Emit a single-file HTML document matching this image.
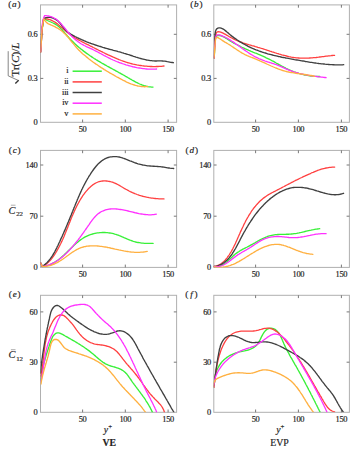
<!DOCTYPE html>
<html><head><meta charset="utf-8"><style>
html,body{margin:0;padding:0;background:#fff;}
svg{display:block;}
text{font-family:"Liberation Serif",serif;fill:#222;stroke:#222;stroke-width:0.18px;}
.t{font-size:8.4px;letter-spacing:-0.25px;}
.pl{font-size:9.2px;}
.ax{font-size:9.8px;}
.cl{font-size:10.4px;}
.yl{font-size:11px;}
.it{font-style:italic;}
</style></head><body>
<svg width="350" height="449" viewBox="0 0 350 449">
<rect width="350" height="449" fill="#fff"/>
<rect x="40.5" y="4.9" width="136.10" height="117.40" fill="none" stroke="#b0b0b0" stroke-width="1"/>
<path d="M82.6 122.3v-2.8M82.6 4.9v2.8M125.3 122.3v-2.8M125.3 4.9v2.8M168.1 122.3v-2.8M168.1 4.9v2.8M40.5 78.4h2.8M176.6 78.4h-2.8M40.5 34.3h2.8M176.6 34.3h-2.8" stroke="#6a6a6a" stroke-width="0.9" fill="none"/>
<rect x="213.8" y="4.9" width="135.60" height="117.40" fill="none" stroke="#b0b0b0" stroke-width="1"/>
<path d="M255.6 122.3v-2.8M255.6 4.9v2.8M298.4 122.3v-2.8M298.4 4.9v2.8M341.4 122.3v-2.8M341.4 4.9v2.8M213.8 78.4h2.8M349.4 78.4h-2.8M213.8 34.3h2.8M349.4 34.3h-2.8" stroke="#6a6a6a" stroke-width="0.9" fill="none"/>
<rect x="40.5" y="150.4" width="136.10" height="117.00" fill="none" stroke="#b0b0b0" stroke-width="1"/>
<path d="M82.6 267.4v-2.8M82.6 150.4v2.8M125.3 267.4v-2.8M125.3 150.4v2.8M168.1 267.4v-2.8M168.1 150.4v2.8M40.5 216.2h2.8M176.6 216.2h-2.8M40.5 165.0h2.8M176.6 165.0h-2.8" stroke="#6a6a6a" stroke-width="0.9" fill="none"/>
<rect x="213.8" y="150.4" width="135.60" height="117.00" fill="none" stroke="#b0b0b0" stroke-width="1"/>
<path d="M255.6 267.4v-2.8M255.6 150.4v2.8M298.4 267.4v-2.8M298.4 150.4v2.8M341.4 267.4v-2.8M341.4 150.4v2.8M213.8 216.2h2.8M349.4 216.2h-2.8M213.8 165.0h2.8M349.4 165.0h-2.8" stroke="#6a6a6a" stroke-width="0.9" fill="none"/>
<rect x="40.5" y="295.3" width="136.10" height="117.00" fill="none" stroke="#b0b0b0" stroke-width="1"/>
<path d="M82.6 412.3v-2.8M82.6 295.3v2.8M125.3 412.3v-2.8M125.3 295.3v2.8M168.1 412.3v-2.8M168.1 295.3v2.8M40.5 362.2h2.8M176.6 362.2h-2.8M40.5 311.9h2.8M176.6 311.9h-2.8" stroke="#6a6a6a" stroke-width="0.9" fill="none"/>
<rect x="213.8" y="295.3" width="135.60" height="117.00" fill="none" stroke="#b0b0b0" stroke-width="1"/>
<path d="M255.6 412.3v-2.8M255.6 295.3v2.8M298.4 412.3v-2.8M298.4 295.3v2.8M341.4 412.3v-2.8M341.4 295.3v2.8M213.8 362.2h2.8M349.4 362.2h-2.8M213.8 311.9h2.8M349.4 311.9h-2.8" stroke="#6a6a6a" stroke-width="0.9" fill="none"/>
<clipPath id="cpa"><rect x="40.5" y="2.9000000000000004" width="137.10" height="119.40"/></clipPath>
<g clip-path="url(#cpa)" fill="none" stroke-linecap="round" stroke-linejoin="round"><path d="M40.6 52.0 L40.7 50.8 L40.8 49.5 L40.9 48.3 L41.0 47.1 L41.1 45.8 L41.1 44.6 L41.2 43.4 L41.3 42.1 L41.4 40.9 L41.4 39.7 L41.5 38.4 L41.6 37.2 L41.6 35.9 L41.7 34.7 L41.8 33.5 L41.9 32.2 L42.0 31.0 L42.1 29.8 L42.3 28.5 L42.4 27.3 L42.6 26.1 L42.8 24.9 L43.0 23.6 L43.2 22.4 L43.4 21.2 L43.7 20.0 L44.0 18.8 L45.1 19.4 L46.2 19.9 L47.4 20.5 L48.5 21.0 L49.6 21.5 L50.8 22.0 L51.9 22.5 L53.1 23.0 L54.2 23.6 L55.3 24.2 L56.3 24.8 L57.3 25.5 L58.3 26.2 L59.2 27.0 L60.1 27.8 L61.0 28.7 L61.9 29.5 L62.7 30.5 L63.5 31.4 L64.3 32.3 L65.1 33.3 L65.9 34.3 L66.7 35.2 L67.5 36.2 L68.4 37.1 L69.2 38.0 L70.1 38.9 L70.9 39.8 L71.8 40.7 L72.7 41.6 L73.6 42.5 L74.5 43.3 L75.4 44.2 L76.3 45.0 L77.2 45.9 L78.2 46.7 L79.1 47.5 L80.1 48.3 L81.0 49.1 L82.0 49.8 L83.0 50.6 L84.0 51.4 L85.0 52.1 L86.0 52.9 L87.0 53.6 L88.0 54.3 L89.0 55.0 L90.0 55.7 L91.1 56.4 L92.1 57.1 L93.1 57.8 L94.2 58.5 L95.2 59.1 L96.3 59.8 L97.4 60.4 L98.4 61.1 L99.5 61.7 L100.6 62.3 L101.6 63.0 L102.7 63.6 L103.8 64.2 L104.9 64.8 L106.0 65.4 L107.0 66.0 L108.1 66.6 L109.2 67.2 L110.3 67.8 L111.4 68.4 L112.5 69.0 L113.6 69.6 L114.7 70.2 L115.8 70.8 L116.9 71.4 L118.0 72.0 L119.0 72.6 L120.1 73.2 L121.2 73.8 L122.3 74.4 L123.4 75.0 L124.5 75.6 L125.6 76.3 L126.7 76.9 L127.7 77.5 L128.8 78.1 L129.9 78.8 L131.0 79.4 L132.0 80.0 L133.1 80.6 L134.2 81.2 L135.3 81.8 L136.4 82.4 L137.5 82.9 L138.6 83.5 L139.7 84.0 L140.9 84.5 L142.0 84.9 L143.2 85.3 L144.3 85.7 L145.5 86.0 L146.7 86.3 L147.9 86.6 L149.2 86.8 L150.4 86.9 L151.7 87.1 L153.0 87.1" stroke="#38f038" stroke-width="1.35"/><path d="M40.6 52.0 L40.7 50.8 L40.8 49.5 L40.9 48.3 L41.0 47.0 L41.1 45.8 L41.1 44.6 L41.2 43.3 L41.3 42.1 L41.4 40.8 L41.4 39.6 L41.5 38.4 L41.6 37.1 L41.7 35.9 L41.7 34.6 L41.8 33.4 L41.9 32.2 L42.0 30.9 L42.1 29.7 L42.2 28.4 L42.4 27.2 L42.5 26.0 L42.7 24.7 L42.8 23.5 L43.0 22.3 L43.2 21.1 L43.4 19.8 L43.6 18.6 L44.9 18.7 L46.2 18.8 L47.5 19.0 L48.7 19.3 L49.9 19.7 L51.0 20.1 L52.1 20.6 L53.2 21.2 L54.3 21.8 L55.3 22.4 L56.3 23.1 L57.3 23.8 L58.2 24.6 L59.2 25.4 L60.1 26.2 L61.1 27.0 L62.0 27.8 L62.9 28.6 L63.9 29.5 L64.8 30.3 L65.7 31.1 L66.7 31.9 L67.7 32.7 L68.6 33.4 L69.6 34.2 L70.6 34.9 L71.6 35.6 L72.7 36.3 L73.7 36.9 L74.7 37.6 L75.8 38.2 L76.8 38.9 L77.9 39.5 L79.0 40.1 L80.1 40.7 L81.2 41.3 L82.2 41.9 L83.3 42.4 L84.4 43.0 L85.5 43.6 L86.7 44.1 L87.8 44.7 L88.9 45.2 L90.0 45.8 L91.1 46.3 L92.2 46.9 L93.3 47.5 L94.4 48.0 L95.5 48.6 L96.6 49.1 L97.7 49.7 L98.8 50.3 L100.0 50.8 L101.1 51.4 L102.2 51.9 L103.3 52.5 L104.4 53.0 L105.5 53.6 L106.6 54.1 L107.7 54.6 L108.8 55.2 L110.0 55.7 L111.1 56.2 L112.2 56.7 L113.3 57.2 L114.5 57.7 L115.6 58.2 L116.8 58.7 L117.9 59.1 L119.0 59.6 L120.2 60.0 L121.3 60.5 L122.5 60.9 L123.7 61.3 L124.8 61.7 L126.0 62.1 L127.2 62.5 L128.4 62.8 L129.6 63.1 L130.8 63.5 L132.0 63.8 L133.2 64.1 L134.4 64.3 L135.6 64.6 L136.8 64.9 L138.1 65.1 L139.3 65.3 L140.5 65.5 L141.8 65.7 L143.0 65.8 L144.2 66.0 L145.5 66.1 L146.7 66.2 L147.9 66.3 L149.2 66.4 L150.4 66.5 L151.7 66.5 L152.9 66.6 L154.1 66.6 L155.4 66.6 L156.6 66.5 L157.9 66.5 L159.1 66.4 L160.3 66.4 L161.5 66.3 L162.8 66.1 L164.0 66.0" stroke="#ff4040" stroke-width="1.3"/><path d="M40.6 52.0 L40.7 50.8 L40.8 49.6 L40.9 48.4 L41.0 47.2 L41.1 46.0 L41.1 44.8 L41.2 43.6 L41.3 42.4 L41.3 41.2 L41.4 40.0 L41.5 38.8 L41.5 37.6 L41.6 36.3 L41.7 35.1 L41.8 33.9 L41.8 32.7 L41.9 31.5 L42.0 30.3 L42.2 29.1 L42.3 27.9 L42.4 26.7 L42.6 25.5 L42.7 24.3 L42.9 23.1 L43.1 22.0 L43.3 20.8 L43.5 19.6 L43.8 18.4 L45.0 17.9 L46.3 17.6 L47.5 17.4 L48.7 17.3 L50.0 17.4 L51.2 17.5 L52.3 17.9 L53.5 18.3 L54.6 18.8 L55.7 19.4 L56.7 20.1 L57.7 20.8 L58.6 21.7 L59.4 22.6 L60.3 23.5 L61.1 24.5 L61.8 25.5 L62.6 26.5 L63.4 27.5 L64.2 28.5 L65.0 29.4 L65.8 30.3 L66.7 31.2 L67.6 32.0 L68.6 32.7 L69.6 33.4 L70.6 34.1 L71.7 34.7 L72.8 35.3 L73.9 35.9 L75.0 36.5 L76.1 37.0 L77.2 37.6 L78.3 38.1 L79.4 38.7 L80.5 39.2 L81.6 39.7 L82.8 40.2 L83.9 40.7 L85.1 41.1 L86.2 41.6 L87.4 42.1 L88.5 42.5 L89.7 43.0 L90.8 43.4 L92.0 43.8 L93.2 44.2 L94.4 44.6 L95.5 45.0 L96.7 45.4 L97.9 45.8 L99.1 46.2 L100.3 46.5 L101.5 46.9 L102.7 47.3 L103.8 47.6 L105.0 48.0 L106.2 48.3 L107.4 48.6 L108.6 49.0 L109.8 49.3 L111.0 49.6 L112.2 49.9 L113.4 50.3 L114.6 50.6 L115.7 50.9 L116.9 51.2 L118.1 51.6 L119.3 51.9 L120.5 52.2 L121.7 52.6 L122.9 52.9 L124.1 53.3 L125.3 53.6 L126.4 54.0 L127.6 54.4 L128.8 54.7 L130.0 55.1 L131.2 55.5 L132.4 55.9 L133.5 56.3 L134.7 56.7 L135.9 57.1 L137.1 57.4 L138.3 57.8 L139.5 58.2 L140.7 58.5 L141.9 58.8 L143.1 59.1 L144.2 59.4 L145.4 59.7 L146.6 60.0 L147.8 60.2 L149.0 60.4 L150.3 60.6 L151.5 60.7 L152.7 60.9 L153.9 60.9 L155.1 61.0 L156.3 61.0 L157.6 60.9 L158.8 60.9 L160.0 60.9 L161.2 60.9 L162.5 61.0 L163.7 61.1 L164.9 61.2 L166.1 61.4 L167.3 61.7 L168.5 61.9 L169.7 62.1 L170.9 62.3 L172.2 62.5 L173.4 62.7" stroke="#404040" stroke-width="1.35"/><path d="M40.6 52.0 L40.8 50.8 L40.9 49.6 L41.0 48.4 L41.1 47.2 L41.2 45.9 L41.3 44.7 L41.3 43.5 L41.4 42.2 L41.4 41.0 L41.5 39.7 L41.5 38.5 L41.5 37.3 L41.5 36.0 L41.6 34.8 L41.6 33.5 L41.7 32.3 L41.7 31.0 L41.8 29.8 L41.9 28.6 L42.0 27.3 L42.1 26.1 L42.2 24.9 L42.4 23.7 L42.6 22.5 L42.8 21.3 L43.1 20.1 L43.4 19.0 L43.8 17.8 L44.1 16.7 L44.6 15.6 L46.0 15.6 L47.3 15.8 L48.5 16.0 L49.8 16.3 L50.9 16.6 L52.1 17.0 L53.2 17.5 L54.2 18.1 L55.3 18.7 L56.3 19.3 L57.2 20.1 L58.1 20.8 L59.0 21.7 L59.9 22.5 L60.7 23.4 L61.6 24.3 L62.4 25.3 L63.2 26.3 L64.0 27.2 L64.8 28.2 L65.6 29.2 L66.4 30.2 L67.2 31.2 L68.0 32.2 L68.8 33.1 L69.6 34.0 L70.5 35.0 L71.4 35.9 L72.2 36.8 L73.1 37.6 L74.1 38.5 L75.0 39.3 L75.9 40.1 L76.9 40.8 L77.9 41.6 L78.9 42.3 L79.9 43.0 L80.9 43.7 L82.0 44.3 L83.1 44.9 L84.2 45.5 L85.3 46.0 L86.4 46.6 L87.5 47.1 L88.7 47.6 L89.8 48.1 L90.9 48.7 L92.1 49.2 L93.2 49.7 L94.3 50.3 L95.4 50.9 L96.5 51.4 L97.7 52.0 L98.8 52.6 L99.9 53.2 L101.0 53.8 L102.1 54.4 L103.2 55.0 L104.3 55.6 L105.4 56.1 L106.5 56.7 L107.6 57.3 L108.7 57.9 L109.8 58.4 L110.9 59.0 L112.0 59.5 L113.1 60.0 L114.3 60.5 L115.4 61.0 L116.5 61.5 L117.7 61.9 L118.8 62.4 L120.0 62.8 L121.2 63.2 L122.3 63.6 L123.5 64.0 L124.7 64.4 L125.9 64.8 L127.1 65.1 L128.3 65.5 L129.5 65.8 L130.7 66.1 L131.9 66.5 L133.1 66.8 L134.3 67.0 L135.6 67.3 L136.8 67.6 L138.0 67.8 L139.3 68.0 L140.5 68.2 L141.7 68.4 L143.0 68.6 L144.2 68.7 L145.4 68.9 L146.7 69.0 L147.9 69.1 L149.2 69.1 L150.4 69.2 L151.6 69.2 L152.9 69.2 L154.1 69.1 L155.4 69.1 L156.6 69.0" stroke="#ff30ff" stroke-width="1.3"/><path d="M40.6 52.0 L40.7 50.8 L40.8 49.5 L40.9 48.3 L41.0 47.1 L41.1 45.8 L41.1 44.6 L41.2 43.4 L41.3 42.1 L41.4 40.9 L41.4 39.7 L41.5 38.4 L41.6 37.2 L41.6 35.9 L41.7 34.7 L41.8 33.5 L41.9 32.2 L42.0 31.0 L42.1 29.8 L42.3 28.5 L42.4 27.3 L42.6 26.1 L42.8 24.9 L43.0 23.6 L43.2 22.4 L43.4 21.2 L43.7 20.0 L44.0 18.8 L44.6 20.1 L45.3 21.1 L46.1 22.1 L47.0 22.9 L48.0 23.6 L49.1 24.2 L50.2 24.7 L51.3 25.2 L52.5 25.7 L53.6 26.2 L54.8 26.7 L55.9 27.3 L57.0 27.9 L58.1 28.5 L59.1 29.1 L60.1 29.8 L61.1 30.5 L62.1 31.3 L63.0 32.1 L63.9 32.9 L64.8 33.8 L65.7 34.6 L66.5 35.5 L67.4 36.5 L68.2 37.4 L69.0 38.4 L69.8 39.3 L70.5 40.3 L71.3 41.3 L72.1 42.3 L72.9 43.2 L73.7 44.2 L74.5 45.2 L75.3 46.2 L76.1 47.1 L76.9 48.1 L77.8 49.0 L78.7 49.9 L79.6 50.8 L80.5 51.7 L81.4 52.5 L82.3 53.4 L83.2 54.2 L84.2 55.0 L85.2 55.8 L86.1 56.6 L87.1 57.4 L88.1 58.2 L89.0 59.0 L90.0 59.7 L91.0 60.5 L92.0 61.2 L93.0 62.0 L94.0 62.7 L95.0 63.4 L96.0 64.1 L97.1 64.8 L98.1 65.5 L99.1 66.2 L100.1 66.9 L101.2 67.6 L102.2 68.2 L103.3 68.9 L104.3 69.6 L105.4 70.2 L106.4 70.9 L107.5 71.5 L108.6 72.1 L109.6 72.8 L110.7 73.4 L111.8 74.0 L112.9 74.6 L114.0 75.2 L115.1 75.9 L116.1 76.5 L117.2 77.1 L118.4 77.7 L119.5 78.3 L120.6 78.9 L121.7 79.5 L122.8 80.1 L123.9 80.6 L125.1 81.2 L126.2 81.8 L127.3 82.3 L128.5 82.8 L129.6 83.3 L130.8 83.8 L131.9 84.2 L133.1 84.6 L134.3 85.0 L135.5 85.4 L136.7 85.7 L137.8 86.0 L139.1 86.2 L140.3 86.4 L141.5 86.5 L142.7 86.6 L143.9 86.7 L145.2 86.7 L146.4 86.6 L147.7 86.5" stroke="#ffb040" stroke-width="1.35"/></g>
<clipPath id="cpb"><rect x="213.8" y="2.9000000000000004" width="136.60" height="119.40"/></clipPath>
<g clip-path="url(#cpb)" fill="none" stroke-linecap="round" stroke-linejoin="round"><path d="M213.9 58.0 L214.1 56.8 L214.3 55.6 L214.4 54.4 L214.5 53.2 L214.5 51.9 L214.6 50.7 L214.6 49.4 L214.6 48.1 L214.7 46.8 L214.7 45.5 L214.8 44.2 L214.9 42.9 L215.0 41.6 L215.2 40.3 L215.4 39.0 L215.7 37.8 L216.2 36.8 L216.8 36.0 L217.7 35.5 L218.7 35.4 L219.9 35.5 L221.2 35.8 L222.4 36.3 L223.6 36.8 L224.7 37.4 L225.8 38.1 L226.9 38.8 L227.9 39.5 L229.0 40.2 L230.1 40.9 L231.1 41.5 L232.2 42.1 L233.3 42.8 L234.4 43.4 L235.5 44.0 L236.6 44.5 L237.7 45.1 L238.8 45.7 L239.9 46.2 L241.0 46.8 L242.1 47.3 L243.3 47.8 L244.4 48.3 L245.5 48.8 L246.7 49.3 L247.8 49.8 L248.9 50.3 L250.1 50.8 L251.2 51.3 L252.4 51.8 L253.5 52.3 L254.7 52.8 L255.8 53.2 L257.0 53.7 L258.1 54.2 L259.3 54.7 L260.5 55.2 L261.6 55.7 L262.8 56.2 L263.9 56.7 L265.0 57.2 L266.2 57.8 L267.3 58.3 L268.4 58.8 L269.6 59.4 L270.7 60.0 L271.8 60.6 L272.9 61.1 L274.0 61.7 L275.1 62.3 L276.1 63.0 L277.2 63.6 L278.3 64.2 L279.4 64.8 L280.5 65.4 L281.6 66.0 L282.7 66.6 L283.8 67.2 L284.9 67.7 L286.0 68.3 L287.1 68.8 L288.3 69.4 L289.4 69.9 L290.6 70.4 L291.7 70.8 L292.9 71.3 L294.0 71.8 L295.2 72.2 L296.4 72.6 L297.6 73.0 L298.8 73.4 L300.0 73.7 L301.2 74.1 L302.4 74.4 L303.6 74.7 L304.8 75.0 L306.0 75.2 L307.3 75.4 L308.5 75.7 L309.7 75.9 L311.0 76.0 L312.2 76.2 L313.5 76.3 L314.7 76.4 L315.9 76.4 L317.2 76.5 L318.4 76.5 L319.7 76.5" stroke="#38f038" stroke-width="1.35"/><path d="M213.9 58.0 L214.0 56.8 L214.2 55.6 L214.3 54.4 L214.4 53.1 L214.5 51.9 L214.5 50.7 L214.6 49.4 L214.7 48.2 L214.7 46.9 L214.8 45.6 L214.8 44.3 L214.9 43.1 L215.0 41.8 L215.0 40.5 L215.1 39.1 L215.3 37.8 L215.4 36.5 L215.6 35.2 L215.9 34.0 L216.3 33.0 L216.8 32.3 L217.5 31.9 L218.5 31.7 L219.5 31.8 L220.7 32.1 L221.8 32.6 L223.1 33.2 L224.3 33.8 L225.5 34.4 L226.6 35.1 L227.8 35.8 L228.9 36.5 L230.1 37.1 L231.2 37.7 L232.3 38.3 L233.4 38.9 L234.4 39.4 L235.6 40.0 L236.7 40.5 L237.8 40.9 L238.9 41.4 L240.1 41.8 L241.2 42.2 L242.4 42.7 L243.5 43.1 L244.7 43.4 L245.9 43.8 L247.1 44.2 L248.2 44.5 L249.4 44.9 L250.6 45.2 L251.8 45.6 L253.0 45.9 L254.2 46.2 L255.4 46.6 L256.6 46.9 L257.8 47.3 L259.0 47.6 L260.2 48.0 L261.4 48.4 L262.6 48.7 L263.8 49.1 L265.0 49.5 L266.2 49.9 L267.4 50.3 L268.6 50.7 L269.8 51.1 L271.0 51.4 L272.1 51.8 L273.3 52.2 L274.5 52.6 L275.7 53.0 L276.9 53.4 L278.1 53.7 L279.3 54.1 L280.5 54.4 L281.7 54.8 L282.9 55.1 L284.1 55.4 L285.3 55.7 L286.5 56.0 L287.7 56.3 L288.9 56.6 L290.1 56.8 L291.3 57.1 L292.5 57.3 L293.7 57.5 L294.9 57.6 L296.2 57.8 L297.4 57.9 L298.6 58.0 L299.9 58.1 L301.1 58.2 L302.3 58.2 L303.6 58.2 L304.8 58.2 L306.1 58.2 L307.3 58.1 L308.6 58.1 L309.8 58.0 L311.1 57.9 L312.3 57.8 L313.6 57.7 L314.8 57.6 L316.1 57.5 L317.3 57.3 L318.6 57.2 L319.8 57.0 L321.1 56.9 L322.3 56.7 L323.6 56.6 L324.8 56.4 L326.0 56.2 L327.3 56.1 L328.5 55.9 L329.7 55.8 L331.0 55.7 L332.2 55.5 L333.4 55.4 L334.6 55.3" stroke="#ff4040" stroke-width="1.3"/><path d="M213.9 58.0 L213.9 56.6 L214.0 55.3 L214.0 54.0 L214.1 52.8 L214.1 51.6 L214.2 50.4 L214.3 49.2 L214.3 48.1 L214.4 46.9 L214.5 45.8 L214.5 44.6 L214.6 43.4 L214.7 42.2 L214.8 40.9 L214.8 39.6 L214.9 38.2 L214.9 36.8 L215.0 35.4 L215.1 34.0 L215.3 32.6 L215.5 31.4 L215.9 30.2 L216.4 29.3 L217.1 28.6 L217.9 28.1 L218.9 27.9 L219.9 27.9 L221.1 28.2 L222.2 28.6 L223.3 29.1 L224.3 29.8 L225.3 30.6 L226.3 31.4 L227.3 32.3 L228.3 33.1 L229.2 33.9 L230.2 34.8 L231.2 35.6 L232.2 36.4 L233.2 37.1 L234.2 37.9 L235.3 38.6 L236.3 39.3 L237.3 40.0 L238.4 40.7 L239.4 41.4 L240.5 42.1 L241.6 42.7 L242.6 43.3 L243.7 43.9 L244.8 44.5 L245.9 45.1 L247.0 45.7 L248.1 46.3 L249.2 46.8 L250.3 47.3 L251.4 47.9 L252.5 48.4 L253.7 48.8 L254.8 49.3 L256.0 49.8 L257.1 50.2 L258.3 50.7 L259.4 51.1 L260.6 51.5 L261.7 51.9 L262.9 52.3 L264.1 52.7 L265.3 53.0 L266.5 53.4 L267.6 53.8 L268.8 54.1 L270.0 54.4 L271.2 54.7 L272.4 55.0 L273.6 55.3 L274.8 55.6 L276.1 55.9 L277.3 56.2 L278.5 56.5 L279.7 56.7 L280.9 57.0 L282.1 57.3 L283.4 57.5 L284.6 57.7 L285.8 58.0 L287.0 58.2 L288.3 58.4 L289.5 58.7 L290.7 58.9 L291.9 59.1 L293.2 59.3 L294.4 59.6 L295.6 59.8 L296.9 60.0 L298.1 60.2 L299.3 60.4 L300.5 60.6 L301.8 60.8 L303.0 61.0 L304.2 61.2 L305.4 61.5 L306.7 61.7 L307.9 61.9 L309.1 62.1 L310.3 62.3 L311.6 62.4 L312.8 62.6 L314.0 62.8 L315.2 63.0 L316.5 63.2 L317.7 63.3 L318.9 63.5 L320.1 63.6 L321.4 63.8 L322.6 63.9 L323.8 64.0 L325.1 64.2 L326.3 64.3 L327.5 64.4 L328.8 64.5 L330.0 64.6 L331.2 64.6 L332.5 64.7 L333.7 64.7 L335.0 64.8 L336.2 64.8 L337.4 64.8 L338.7 64.8 L339.9 64.8 L341.2 64.8 L342.4 64.8 L343.7 64.7" stroke="#404040" stroke-width="1.35"/><path d="M213.9 58.0 L214.0 56.6 L214.0 55.3 L214.1 54.0 L214.2 52.8 L214.3 51.6 L214.4 50.4 L214.5 49.2 L214.6 48.1 L214.7 46.9 L214.9 45.7 L215.0 44.4 L215.1 43.2 L215.2 41.9 L215.4 40.6 L215.5 39.2 L215.7 37.8 L215.9 36.5 L216.4 35.5 L217.2 34.9 L218.2 34.8 L219.4 34.9 L220.7 35.3 L222.0 35.8 L223.3 36.4 L224.5 36.9 L225.6 37.5 L226.8 38.0 L227.8 38.6 L228.9 39.3 L230.0 39.9 L231.0 40.6 L232.0 41.2 L233.1 41.9 L234.1 42.6 L235.1 43.4 L236.1 44.1 L237.2 44.8 L238.2 45.5 L239.2 46.3 L240.2 47.0 L241.2 47.7 L242.2 48.5 L243.3 49.2 L244.3 49.9 L245.3 50.6 L246.3 51.3 L247.4 52.0 L248.4 52.7 L249.4 53.4 L250.5 54.1 L251.6 54.7 L252.6 55.3 L253.7 56.0 L254.8 56.6 L255.9 57.1 L257.0 57.7 L258.1 58.2 L259.2 58.8 L260.4 59.2 L261.5 59.7 L262.7 60.2 L263.9 60.6 L265.0 61.0 L266.2 61.4 L267.4 61.8 L268.6 62.2 L269.8 62.5 L271.0 62.9 L272.2 63.3 L273.4 63.7 L274.6 64.1 L275.8 64.5 L277.0 64.9 L278.1 65.4 L279.3 65.8 L280.4 66.3 L281.6 66.8 L282.7 67.3 L283.8 67.8 L285.0 68.3 L286.1 68.8 L287.2 69.3 L288.4 69.8 L289.5 70.3 L290.7 70.7 L291.8 71.2 L293.0 71.6 L294.2 72.0 L295.4 72.4 L296.6 72.7 L297.8 73.0 L299.0 73.4 L300.2 73.7 L301.4 73.9 L302.6 74.2 L303.9 74.5 L305.1 74.7 L306.3 74.9 L307.6 75.2 L308.8 75.4 L310.1 75.6 L311.3 75.8 L312.5 75.9 L313.8 76.1 L315.0 76.3 L316.3 76.4 L317.5 76.6 L318.7 76.8 L320.0 76.9 L321.2 77.1 L322.4 77.2 L323.7 77.4 L324.9 77.5 L326.1 77.7" stroke="#ff30ff" stroke-width="1.3"/><path d="M213.9 58.0 L214.0 56.8 L214.2 55.7 L214.3 54.4 L214.4 53.2 L214.5 52.0 L214.6 50.7 L214.7 49.4 L214.8 48.1 L214.9 46.8 L215.0 45.5 L215.1 44.1 L215.2 42.8 L215.3 41.5 L215.4 40.2 L215.6 39.0 L215.9 38.1 L216.4 37.6 L217.2 37.5 L218.1 37.7 L219.1 38.3 L220.3 39.0 L221.4 39.8 L222.6 40.6 L223.8 41.4 L224.9 42.1 L226.0 42.7 L227.1 43.3 L228.2 44.0 L229.2 44.6 L230.3 45.3 L231.3 46.0 L232.4 46.7 L233.4 47.4 L234.4 48.1 L235.5 48.8 L236.5 49.5 L237.5 50.2 L238.6 50.8 L239.6 51.5 L240.7 52.2 L241.7 52.8 L242.8 53.4 L243.9 54.0 L245.0 54.6 L246.1 55.1 L247.2 55.6 L248.4 56.1 L249.5 56.6 L250.7 57.0 L251.9 57.5 L253.0 57.9 L254.2 58.4 L255.3 58.9 L256.5 59.3 L257.6 59.8 L258.8 60.3 L259.9 60.8 L261.1 61.3 L262.2 61.9 L263.3 62.4 L264.5 62.9 L265.6 63.4 L266.7 64.0 L267.9 64.5 L269.0 65.0 L270.1 65.5 L271.2 66.0 L272.4 66.5 L273.5 67.0 L274.7 67.5 L275.8 68.0 L277.0 68.4 L278.1 68.9 L279.3 69.3 L280.4 69.7 L281.6 70.1 L282.8 70.5 L284.0 70.8 L285.2 71.2 L286.4 71.5 L287.6 71.8 L288.8 72.0 L290.0 72.3 L291.2 72.5 L292.4 72.7 L293.7 72.9 L294.9 73.1 L296.1 73.3 L297.4 73.5 L298.6 73.6 L299.9 73.8 L301.1 74.0 L302.4 74.1 L303.6 74.3 L304.8 74.5 L306.1 74.7 L307.3 74.9 L308.5 75.1 L309.8 75.3 L311.0 75.5 L312.2 75.7 L313.4 76.0 L314.6 76.3" stroke="#ffb040" stroke-width="1.35"/></g>
<clipPath id="cpc"><rect x="40.5" y="148.4" width="137.10" height="119.00"/></clipPath>
<g clip-path="url(#cpc)" fill="none" stroke-linecap="round" stroke-linejoin="round"><path d="M40.6 263.0 L42.3 266.5 L43.6 266.3 L44.8 266.1 L46.1 265.9 L47.3 265.5 L48.4 265.2 L49.6 264.8 L50.7 264.3 L51.8 263.8 L52.9 263.2 L54.0 262.7 L55.0 262.0 L56.0 261.4 L57.0 260.7 L58.0 260.0 L59.0 259.2 L60.0 258.5 L60.9 257.7 L61.9 256.9 L62.8 256.0 L63.8 255.2 L64.7 254.3 L65.6 253.4 L66.5 252.6 L67.4 251.7 L68.3 250.8 L69.2 249.9 L70.1 249.0 L71.1 248.1 L72.0 247.2 L72.9 246.4 L73.8 245.5 L74.7 244.6 L75.7 243.8 L76.6 243.0 L77.6 242.2 L78.6 241.4 L79.5 240.6 L80.5 239.9 L81.5 239.2 L82.6 238.5 L83.6 237.8 L84.7 237.2 L85.8 236.6 L86.9 236.1 L88.0 235.6 L89.1 235.1 L90.3 234.7 L91.4 234.3 L92.6 234.0 L93.8 233.7 L95.0 233.4 L96.2 233.1 L97.4 232.9 L98.7 232.8 L99.9 232.6 L101.1 232.6 L102.4 232.5 L103.6 232.5 L104.9 232.5 L106.1 232.6 L107.3 232.7 L108.6 232.8 L109.8 233.0 L111.0 233.2 L112.3 233.4 L113.5 233.7 L114.7 234.1 L115.9 234.4 L117.1 234.8 L118.2 235.2 L119.4 235.7 L120.6 236.1 L121.7 236.6 L122.9 237.1 L124.0 237.6 L125.2 238.1 L126.4 238.6 L127.5 239.1 L128.7 239.6 L129.8 240.0 L131.0 240.5 L132.2 240.9 L133.3 241.3 L134.5 241.7 L135.7 242.0 L136.9 242.3 L138.1 242.5 L139.4 242.7 L140.6 242.9 L141.8 243.1 L143.1 243.2 L144.3 243.3 L145.6 243.3 L146.8 243.4 L148.1 243.4 L149.3 243.4 L150.6 243.4 L151.8 243.4 L153.1 243.4" stroke="#38f038" stroke-width="1.35"/><path d="M40.6 263.0 L42.3 266.5 L43.4 265.9 L44.5 265.3 L45.5 264.7 L46.5 263.9 L47.5 263.1 L48.4 262.3 L49.2 261.4 L50.1 260.5 L50.9 259.6 L51.7 258.6 L52.4 257.6 L53.2 256.6 L53.9 255.6 L54.6 254.6 L55.3 253.5 L55.9 252.5 L56.6 251.4 L57.2 250.3 L57.8 249.2 L58.4 248.1 L59.0 247.0 L59.6 245.9 L60.1 244.8 L60.7 243.7 L61.2 242.6 L61.8 241.4 L62.3 240.3 L62.8 239.2 L63.3 238.0 L63.8 236.9 L64.3 235.7 L64.8 234.6 L65.2 233.4 L65.7 232.3 L66.2 231.1 L66.6 230.0 L67.1 228.8 L67.6 227.7 L68.0 226.5 L68.5 225.3 L68.9 224.2 L69.4 223.0 L69.9 221.9 L70.3 220.7 L70.8 219.6 L71.2 218.4 L71.7 217.3 L72.2 216.1 L72.7 215.0 L73.2 213.8 L73.7 212.7 L74.2 211.6 L74.7 210.4 L75.2 209.3 L75.7 208.2 L76.3 207.1 L76.8 206.0 L77.4 204.9 L78.0 203.8 L78.6 202.7 L79.2 201.6 L79.8 200.5 L80.5 199.4 L81.1 198.4 L81.8 197.3 L82.5 196.2 L83.2 195.2 L84.0 194.2 L84.7 193.1 L85.5 192.1 L86.3 191.1 L87.2 190.2 L88.0 189.2 L88.9 188.3 L89.8 187.4 L90.8 186.5 L91.7 185.7 L92.7 184.9 L93.7 184.2 L94.7 183.6 L95.8 183.0 L96.9 182.5 L98.0 182.0 L99.1 181.6 L100.3 181.3 L101.5 181.1 L102.7 181.0 L103.9 180.9 L105.1 180.9 L106.3 181.0 L107.6 181.1 L108.8 181.3 L110.0 181.5 L111.3 181.9 L112.5 182.2 L113.6 182.7 L114.8 183.1 L115.9 183.6 L117.1 184.2 L118.2 184.8 L119.3 185.4 L120.4 186.0 L121.5 186.7 L122.6 187.3 L123.6 188.0 L124.7 188.6 L125.8 189.2 L126.9 189.8 L128.0 190.4 L129.1 191.0 L130.3 191.6 L131.4 192.1 L132.5 192.6 L133.7 193.1 L134.8 193.6 L136.0 194.0 L137.1 194.5 L138.3 194.9 L139.5 195.3 L140.6 195.6 L141.8 196.0 L143.0 196.3 L144.2 196.6 L145.4 196.9 L146.6 197.2 L147.8 197.4 L149.1 197.7 L150.3 197.9 L151.5 198.1 L152.7 198.2 L154.0 198.4 L155.2 198.5 L156.5 198.6 L157.7 198.7 L159.0 198.8 L160.2 198.8 L161.5 198.9 L162.7 198.9 L164.0 198.9" stroke="#ff4040" stroke-width="1.3"/><path d="M40.6 262.9 L42.3 266.4 L43.4 265.7 L44.4 264.9 L45.4 264.1 L46.3 263.2 L47.2 262.4 L48.0 261.5 L48.9 260.5 L49.6 259.6 L50.4 258.6 L51.1 257.6 L51.8 256.6 L52.5 255.6 L53.1 254.5 L53.8 253.5 L54.4 252.4 L55.0 251.3 L55.5 250.2 L56.1 249.1 L56.7 248.0 L57.2 246.8 L57.8 245.7 L58.3 244.6 L58.8 243.4 L59.4 242.3 L59.9 241.2 L60.4 240.0 L60.9 238.9 L61.4 237.8 L62.0 236.6 L62.5 235.5 L63.0 234.3 L63.5 233.2 L64.0 232.0 L64.5 230.9 L65.0 229.7 L65.5 228.6 L66.0 227.4 L66.5 226.3 L67.0 225.1 L67.4 224.0 L67.9 222.8 L68.4 221.7 L68.9 220.5 L69.4 219.4 L69.8 218.2 L70.3 217.0 L70.8 215.9 L71.3 214.7 L71.7 213.6 L72.2 212.4 L72.7 211.3 L73.1 210.1 L73.6 209.0 L74.0 207.8 L74.5 206.7 L75.0 205.5 L75.4 204.4 L75.9 203.2 L76.4 202.1 L76.9 200.9 L77.3 199.8 L77.8 198.7 L78.3 197.5 L78.8 196.4 L79.3 195.3 L79.8 194.1 L80.3 193.0 L80.8 191.9 L81.3 190.8 L81.8 189.6 L82.4 188.5 L82.9 187.4 L83.5 186.3 L84.0 185.2 L84.6 184.1 L85.2 183.0 L85.8 181.9 L86.4 180.8 L87.0 179.7 L87.6 178.6 L88.3 177.5 L88.9 176.4 L89.6 175.3 L90.3 174.3 L91.0 173.2 L91.7 172.1 L92.4 171.1 L93.2 170.0 L93.9 169.0 L94.7 168.0 L95.5 167.0 L96.3 166.0 L97.2 165.0 L98.0 164.1 L98.9 163.2 L99.9 162.4 L100.8 161.6 L101.8 160.8 L102.8 160.1 L103.8 159.5 L104.8 158.9 L105.9 158.4 L107.0 157.9 L108.2 157.5 L109.4 157.2 L110.6 156.9 L111.8 156.8 L113.0 156.6 L114.2 156.6 L115.5 156.6 L116.7 156.7 L117.9 156.8 L119.2 157.0 L120.4 157.3 L121.6 157.7 L122.8 158.0 L124.0 158.5 L125.2 158.9 L126.4 159.4 L127.5 159.8 L128.7 160.3 L129.9 160.8 L131.0 161.2 L132.2 161.7 L133.3 162.1 L134.5 162.6 L135.7 163.0 L136.8 163.4 L138.0 163.8 L139.2 164.1 L140.3 164.4 L141.5 164.7 L142.7 165.0 L143.9 165.2 L145.2 165.4 L146.4 165.6 L147.6 165.8 L148.9 165.9 L150.1 166.0 L151.4 166.1 L152.6 166.2 L153.9 166.2 L155.2 166.3 L156.4 166.4 L157.7 166.5 L158.9 166.6 L160.2 166.7 L161.4 166.9 L162.7 167.0 L163.9 167.2 L165.1 167.4 L166.3 167.6 L167.6 167.8 L168.8 168.0 L170.0 168.2 L171.2 168.3 L172.5 168.4 L173.7 168.5" stroke="#404040" stroke-width="1.35"/><path d="M40.6 263.0 L42.3 266.5 L43.6 266.3 L44.8 266.1 L46.0 265.8 L47.2 265.4 L48.4 265.1 L49.6 264.6 L50.7 264.2 L51.8 263.7 L53.0 263.2 L54.1 262.6 L55.1 262.0 L56.2 261.3 L57.2 260.7 L58.3 260.0 L59.3 259.3 L60.3 258.5 L61.3 257.8 L62.2 257.0 L63.2 256.2 L64.1 255.3 L65.1 254.5 L66.0 253.6 L66.9 252.7 L67.8 251.9 L68.6 251.0 L69.5 250.0 L70.4 249.1 L71.2 248.2 L72.0 247.3 L72.8 246.3 L73.6 245.4 L74.4 244.4 L75.2 243.5 L76.0 242.5 L76.8 241.5 L77.5 240.6 L78.3 239.6 L79.0 238.6 L79.8 237.6 L80.5 236.6 L81.3 235.6 L82.0 234.6 L82.7 233.6 L83.5 232.6 L84.2 231.5 L84.9 230.5 L85.6 229.5 L86.4 228.5 L87.1 227.4 L87.8 226.4 L88.5 225.3 L89.3 224.3 L90.0 223.2 L90.7 222.2 L91.5 221.2 L92.2 220.1 L93.0 219.1 L93.8 218.1 L94.6 217.2 L95.5 216.3 L96.3 215.4 L97.2 214.6 L98.1 213.8 L99.1 213.1 L100.1 212.4 L101.1 211.8 L102.2 211.2 L103.3 210.8 L104.4 210.3 L105.5 209.9 L106.7 209.6 L107.9 209.4 L109.1 209.2 L110.3 209.0 L111.5 208.9 L112.7 208.9 L114.0 208.9 L115.3 208.9 L116.5 209.0 L117.8 209.1 L119.1 209.3 L120.4 209.5 L121.7 209.7 L123.0 209.9 L124.2 210.1 L125.5 210.4 L126.8 210.7 L128.1 211.0 L129.3 211.3 L130.6 211.6 L131.8 211.9 L133.0 212.2 L134.2 212.5 L135.4 212.8 L136.6 213.0 L137.8 213.3 L139.0 213.6 L140.2 213.8 L141.4 214.0 L142.6 214.2 L143.8 214.4 L145.0 214.5 L146.2 214.6 L147.4 214.7 L148.6 214.8 L149.9 214.8 L151.1 214.8 L152.4 214.7 L153.7 214.6 L155.0 214.4 L156.3 214.2" stroke="#ff30ff" stroke-width="1.3"/><path d="M40.6 263.0 L42.3 266.5 L43.6 266.5 L44.9 266.5 L46.2 266.3 L47.4 266.2 L48.6 265.9 L49.8 265.6 L51.0 265.3 L52.1 264.9 L53.3 264.4 L54.4 264.0 L55.5 263.4 L56.6 262.9 L57.7 262.3 L58.8 261.7 L59.8 261.0 L60.9 260.4 L61.9 259.7 L63.0 259.0 L64.0 258.2 L65.1 257.5 L66.1 256.8 L67.1 256.0 L68.2 255.3 L69.2 254.5 L70.2 253.8 L71.3 253.0 L72.3 252.3 L73.4 251.6 L74.4 251.0 L75.5 250.3 L76.6 249.7 L77.7 249.2 L78.7 248.6 L79.9 248.1 L81.0 247.7 L82.1 247.3 L83.3 247.0 L84.4 246.7 L85.6 246.5 L86.8 246.2 L87.9 246.1 L89.1 246.0 L90.4 245.9 L91.6 245.8 L92.8 245.8 L94.0 245.8 L95.3 245.8 L96.5 245.9 L97.7 246.0 L99.0 246.1 L100.2 246.3 L101.5 246.4 L102.7 246.6 L104.0 246.8 L105.2 247.0 L106.5 247.2 L107.8 247.5 L109.0 247.7 L110.3 248.0 L111.5 248.3 L112.8 248.5 L114.0 248.8 L115.2 249.1 L116.5 249.3 L117.7 249.6 L118.9 249.9 L120.1 250.1 L121.4 250.4 L122.6 250.6 L123.8 250.9 L125.0 251.1 L126.2 251.3 L127.4 251.5 L128.6 251.7 L129.8 251.8 L131.1 252.0 L132.3 252.1 L133.5 252.2 L134.7 252.3 L135.9 252.3 L137.2 252.3 L138.4 252.3 L139.6 252.3 L140.9 252.2 L142.1 252.1 L143.4 252.0 L144.7 251.8 L145.9 251.6 L147.2 251.4" stroke="#ffb040" stroke-width="1.35"/></g>
<clipPath id="cpd"><rect x="213.8" y="148.4" width="136.60" height="119.00"/></clipPath>
<g clip-path="url(#cpd)" fill="none" stroke-linecap="round" stroke-linejoin="round"><path d="M213.8 266.5 L215.2 266.6 L216.5 266.6 L217.7 266.4 L218.9 266.2 L220.1 265.9 L221.2 265.4 L222.3 264.9 L223.4 264.4 L224.4 263.7 L225.4 263.0 L226.3 262.2 L227.3 261.5 L228.2 260.6 L229.1 259.8 L230.1 258.9 L231.0 258.0 L231.9 257.2 L232.8 256.3 L233.7 255.4 L234.7 254.6 L235.6 253.8 L236.6 253.1 L237.6 252.4 L238.7 251.7 L239.7 251.0 L240.7 250.4 L241.8 249.8 L242.9 249.2 L244.0 248.7 L245.1 248.1 L246.2 247.5 L247.3 247.0 L248.4 246.4 L249.5 245.8 L250.6 245.2 L251.7 244.6 L252.8 244.0 L253.9 243.4 L255.0 242.8 L256.0 242.2 L257.1 241.5 L258.2 240.9 L259.3 240.3 L260.4 239.7 L261.5 239.2 L262.7 238.6 L263.8 238.1 L264.9 237.6 L266.0 237.1 L267.2 236.7 L268.3 236.2 L269.5 235.9 L270.6 235.6 L271.8 235.3 L273.0 235.1 L274.2 234.9 L275.4 234.7 L276.7 234.6 L277.9 234.5 L279.1 234.4 L280.4 234.4 L281.6 234.4 L282.9 234.3 L284.1 234.3 L285.4 234.3 L286.6 234.2 L287.9 234.2 L289.1 234.2 L290.4 234.1 L291.6 234.0 L292.9 233.9 L294.1 233.7 L295.3 233.6 L296.6 233.4 L297.8 233.1 L299.0 232.9 L300.2 232.6 L301.4 232.4 L302.6 232.1 L303.8 231.8 L305.0 231.5 L306.3 231.2 L307.5 230.9 L308.7 230.6 L309.9 230.3 L311.1 230.1 L312.3 229.8 L313.5 229.6 L314.8 229.3 L316.0 229.1 L317.2 229.0 L318.5 228.8 L319.7 228.7" stroke="#38f038" stroke-width="1.35"/><path d="M213.8 266.5 L215.1 266.3 L216.3 266.0 L217.4 265.6 L218.5 265.2 L219.6 264.6 L220.7 264.0 L221.6 263.3 L222.6 262.6 L223.5 261.8 L224.4 260.9 L225.3 260.0 L226.1 259.0 L226.9 258.1 L227.6 257.0 L228.4 256.0 L229.1 255.0 L229.8 253.9 L230.4 252.8 L231.1 251.8 L231.7 250.7 L232.3 249.6 L232.9 248.5 L233.4 247.4 L234.0 246.3 L234.5 245.2 L235.1 244.1 L235.6 242.9 L236.1 241.8 L236.6 240.7 L237.1 239.6 L237.6 238.4 L238.1 237.3 L238.6 236.2 L239.1 235.0 L239.6 233.9 L240.1 232.7 L240.6 231.6 L241.2 230.4 L241.7 229.3 L242.2 228.2 L242.8 227.0 L243.3 225.9 L243.8 224.8 L244.4 223.6 L245.0 222.5 L245.5 221.4 L246.1 220.3 L246.7 219.2 L247.3 218.1 L248.0 217.0 L248.6 215.9 L249.2 214.9 L249.9 213.8 L250.6 212.8 L251.2 211.7 L251.9 210.7 L252.7 209.7 L253.4 208.7 L254.1 207.7 L254.9 206.8 L255.7 205.8 L256.5 204.9 L257.3 204.0 L258.1 203.1 L258.9 202.2 L259.8 201.3 L260.7 200.5 L261.6 199.7 L262.5 198.9 L263.5 198.1 L264.5 197.4 L265.5 196.7 L266.5 196.0 L267.5 195.3 L268.6 194.6 L269.7 194.0 L270.8 193.4 L271.9 192.8 L273.0 192.2 L274.1 191.6 L275.2 191.1 L276.4 190.5 L277.5 189.9 L278.6 189.4 L279.7 188.8 L280.8 188.2 L281.9 187.6 L283.0 187.0 L284.1 186.5 L285.2 185.9 L286.3 185.3 L287.4 184.7 L288.5 184.1 L289.6 183.6 L290.7 183.0 L291.8 182.4 L292.9 181.9 L294.0 181.3 L295.1 180.7 L296.2 180.2 L297.3 179.6 L298.4 179.1 L299.5 178.5 L300.6 178.0 L301.8 177.5 L302.9 176.9 L304.0 176.4 L305.1 175.9 L306.3 175.3 L307.4 174.8 L308.5 174.3 L309.7 173.8 L310.8 173.3 L311.9 172.7 L313.1 172.3 L314.2 171.8 L315.4 171.3 L316.6 170.9 L317.7 170.4 L318.9 170.0 L320.1 169.6 L321.3 169.2 L322.4 168.9 L323.6 168.6 L324.8 168.3 L326.0 168.0 L327.3 167.8 L328.5 167.6 L329.7 167.4 L330.9 167.3 L332.2 167.2 L333.4 167.1 L334.7 167.1" stroke="#ff4040" stroke-width="1.3"/><path d="M213.8 266.5 L215.1 266.3 L216.4 266.1 L217.6 265.8 L218.8 265.4 L220.0 264.9 L221.0 264.4 L222.1 263.8 L223.1 263.2 L224.1 262.6 L225.0 261.8 L225.9 261.1 L226.8 260.3 L227.7 259.4 L228.5 258.6 L229.3 257.7 L230.0 256.7 L230.8 255.8 L231.5 254.8 L232.2 253.8 L232.9 252.7 L233.6 251.7 L234.2 250.6 L234.8 249.6 L235.5 248.5 L236.1 247.4 L236.7 246.2 L237.3 245.1 L237.9 244.0 L238.5 242.9 L239.1 241.7 L239.7 240.6 L240.2 239.5 L240.8 238.4 L241.4 237.2 L242.0 236.1 L242.6 235.0 L243.2 233.9 L243.8 232.8 L244.4 231.7 L245.1 230.6 L245.7 229.5 L246.3 228.4 L246.9 227.4 L247.6 226.3 L248.2 225.2 L248.9 224.2 L249.5 223.1 L250.2 222.1 L250.9 221.0 L251.6 220.0 L252.3 219.0 L253.0 217.9 L253.7 216.9 L254.4 215.9 L255.1 214.9 L255.9 213.9 L256.6 213.0 L257.4 212.0 L258.2 211.0 L258.9 210.1 L259.7 209.1 L260.5 208.2 L261.4 207.3 L262.2 206.4 L263.1 205.5 L263.9 204.6 L264.8 203.7 L265.7 202.8 L266.6 202.0 L267.5 201.1 L268.5 200.3 L269.4 199.4 L270.4 198.6 L271.4 197.8 L272.4 197.1 L273.4 196.3 L274.4 195.6 L275.5 194.8 L276.5 194.1 L277.6 193.5 L278.7 192.8 L279.8 192.2 L280.9 191.6 L282.0 191.1 L283.1 190.5 L284.2 190.1 L285.4 189.6 L286.5 189.2 L287.7 188.8 L288.9 188.5 L290.0 188.2 L291.2 187.9 L292.4 187.7 L293.6 187.5 L294.8 187.4 L296.1 187.3 L297.3 187.3 L298.5 187.3 L299.7 187.3 L300.9 187.4 L302.2 187.5 L303.4 187.6 L304.6 187.8 L305.9 188.0 L307.1 188.2 L308.3 188.5 L309.5 188.8 L310.8 189.1 L312.0 189.4 L313.2 189.7 L314.4 190.1 L315.6 190.5 L316.8 190.9 L318.0 191.2 L319.3 191.6 L320.5 192.0 L321.7 192.3 L322.9 192.7 L324.1 193.0 L325.3 193.3 L326.5 193.6 L327.7 193.9 L328.9 194.1 L330.1 194.3 L331.4 194.5 L332.6 194.6 L333.8 194.7 L335.0 194.7 L336.2 194.7 L337.5 194.6 L338.7 194.5 L339.9 194.3 L341.1 194.0 L342.4 193.7 L343.6 193.3" stroke="#404040" stroke-width="1.35"/><path d="M213.8 266.5 L215.1 266.7 L216.4 266.7 L217.7 266.6 L218.9 266.5 L220.1 266.2 L221.3 265.9 L222.4 265.5 L223.5 265.0 L224.6 264.4 L225.6 263.8 L226.6 263.1 L227.7 262.5 L228.7 261.7 L229.7 261.0 L230.7 260.2 L231.7 259.4 L232.7 258.6 L233.7 257.9 L234.7 257.1 L235.7 256.4 L236.7 255.6 L237.7 254.9 L238.8 254.3 L239.8 253.6 L240.9 253.0 L242.0 252.3 L243.0 251.7 L244.1 251.1 L245.2 250.5 L246.3 249.9 L247.3 249.3 L248.4 248.6 L249.5 248.0 L250.6 247.3 L251.6 246.6 L252.7 245.9 L253.7 245.2 L254.8 244.5 L255.9 243.8 L256.9 243.1 L258.0 242.4 L259.1 241.8 L260.2 241.1 L261.3 240.5 L262.4 239.9 L263.5 239.4 L264.6 238.9 L265.7 238.5 L266.9 238.1 L268.1 237.7 L269.2 237.4 L270.4 237.2 L271.6 236.9 L272.8 236.8 L274.0 236.6 L275.2 236.6 L276.5 236.5 L277.7 236.5 L278.9 236.5 L280.2 236.6 L281.4 236.7 L282.7 236.8 L283.9 236.9 L285.2 237.1 L286.4 237.2 L287.7 237.3 L288.9 237.5 L290.2 237.6 L291.5 237.6 L292.7 237.7 L294.0 237.7 L295.2 237.6 L296.4 237.6 L297.7 237.5 L298.9 237.3 L300.2 237.2 L301.4 237.0 L302.6 236.8 L303.8 236.6 L305.1 236.3 L306.3 236.1 L307.5 235.8 L308.8 235.6 L310.0 235.4 L311.2 235.1 L312.4 234.9 L313.7 234.7 L314.9 234.4 L316.1 234.2 L317.4 234.1 L318.6 233.9 L319.8 233.8 L321.1 233.7 L322.3 233.6 L323.6 233.6 L324.8 233.6 L326.1 233.7" stroke="#ff30ff" stroke-width="1.3"/><path d="M213.8 266.8 L215.1 267.0 L216.4 267.2 L217.7 267.3 L219.0 267.3 L220.3 267.3 L221.5 267.3 L222.7 267.2 L223.9 267.0 L225.1 266.8 L226.3 266.5 L227.5 266.3 L228.7 265.9 L229.8 265.6 L231.0 265.2 L232.1 264.7 L233.2 264.3 L234.4 263.8 L235.5 263.3 L236.6 262.7 L237.7 262.1 L238.8 261.6 L239.9 260.9 L240.9 260.3 L242.0 259.7 L243.1 259.0 L244.2 258.4 L245.2 257.7 L246.3 257.0 L247.4 256.3 L248.5 255.7 L249.5 255.0 L250.6 254.3 L251.7 253.6 L252.8 253.0 L253.9 252.3 L255.0 251.7 L256.0 251.0 L257.1 250.4 L258.2 249.8 L259.4 249.2 L260.5 248.7 L261.6 248.1 L262.7 247.6 L263.9 247.1 L265.0 246.7 L266.2 246.3 L267.4 245.9 L268.6 245.5 L269.8 245.2 L270.9 244.9 L272.1 244.7 L273.4 244.6 L274.6 244.4 L275.8 244.4 L277.0 244.4 L278.2 244.4 L279.4 244.5 L280.6 244.7 L281.8 245.0 L283.0 245.2 L284.2 245.6 L285.4 245.9 L286.6 246.3 L287.8 246.8 L289.0 247.2 L290.2 247.7 L291.3 248.2 L292.5 248.6 L293.7 249.1 L294.9 249.6 L296.1 250.1 L297.2 250.5 L298.4 251.0 L299.6 251.4 L300.8 251.8 L301.9 252.2 L303.1 252.6 L304.3 252.9 L305.5 253.2 L306.7 253.5 L307.9 253.7 L309.2 253.9 L310.4 254.1 L311.6 254.2 L312.9 254.3" stroke="#ffb040" stroke-width="1.35"/></g>
<clipPath id="cpe"><rect x="40.5" y="293.3" width="137.10" height="119.00"/></clipPath>
<g clip-path="url(#cpe)" fill="none" stroke-linecap="round" stroke-linejoin="round"><path d="M40.8 380.0 L41.0 378.7 L41.1 377.4 L41.3 376.1 L41.5 374.8 L41.7 373.6 L41.9 372.3 L42.2 371.1 L42.4 369.9 L42.6 368.7 L42.9 367.5 L43.2 366.3 L43.4 365.1 L43.7 364.0 L44.0 362.8 L44.3 361.6 L44.7 360.5 L45.0 359.3 L45.3 358.1 L45.7 357.0 L46.0 355.8 L46.4 354.6 L46.7 353.5 L47.1 352.3 L47.5 351.1 L47.9 349.9 L48.3 348.7 L48.7 347.5 L49.1 346.3 L49.5 345.0 L49.9 343.8 L50.4 342.5 L50.8 341.2 L51.3 339.9 L51.8 338.7 L52.3 337.5 L52.9 336.4 L53.6 335.4 L54.5 334.5 L55.4 333.7 L56.4 333.2 L57.5 332.9 L58.6 332.9 L59.7 333.1 L60.8 333.6 L61.9 334.1 L63.0 334.7 L64.1 335.3 L65.2 336.0 L66.3 336.6 L67.4 337.2 L68.5 337.8 L69.5 338.4 L70.6 339.0 L71.7 339.7 L72.8 340.3 L73.9 340.9 L75.0 341.5 L76.0 342.2 L77.1 342.8 L78.2 343.5 L79.2 344.1 L80.3 344.8 L81.3 345.5 L82.3 346.1 L83.4 346.8 L84.4 347.5 L85.4 348.2 L86.4 348.9 L87.5 349.7 L88.5 350.4 L89.5 351.1 L90.4 351.9 L91.4 352.7 L92.4 353.5 L93.4 354.3 L94.3 355.1 L95.3 355.9 L96.2 356.8 L97.2 357.6 L98.1 358.4 L99.1 359.2 L100.1 360.0 L101.0 360.8 L102.0 361.5 L103.0 362.3 L104.1 362.9 L105.1 363.6 L106.2 364.2 L107.3 364.7 L108.4 365.2 L109.6 365.6 L110.8 366.0 L112.0 366.3 L113.2 366.7 L114.4 367.0 L115.6 367.4 L116.8 367.8 L118.0 368.2 L119.2 368.7 L120.3 369.2 L121.4 369.7 L122.4 370.3 L123.5 371.0 L124.4 371.7 L125.3 372.5 L126.2 373.4 L127.0 374.3 L127.8 375.3 L128.5 376.3 L129.2 377.4 L129.9 378.4 L130.7 379.5 L131.4 380.5 L132.1 381.6 L132.8 382.6 L133.6 383.6 L134.3 384.7 L135.1 385.7 L135.8 386.7 L136.6 387.7 L137.3 388.7 L138.1 389.7 L138.8 390.7 L139.6 391.7 L140.3 392.7 L141.0 393.7 L141.8 394.7 L142.5 395.7 L143.2 396.7 L144.0 397.7 L144.7 398.7 L145.4 399.7 L146.0 400.8 L146.7 401.8 L147.4 402.9 L148.0 403.9 L148.7 405.0 L149.3 406.1 L149.9 407.1 L150.5 408.2 L151.0 409.4 L151.6 410.5 L152.1 411.6 L152.6 412.8" stroke="#38f038" stroke-width="1.35"/><path d="M40.7 376.0 L41.0 374.7 L41.2 373.5 L41.5 372.3 L41.7 371.0 L41.9 369.8 L42.1 368.5 L42.3 367.3 L42.5 366.0 L42.7 364.8 L42.8 363.6 L43.0 362.3 L43.1 361.1 L43.2 359.8 L43.4 358.6 L43.5 357.4 L43.7 356.2 L43.8 354.9 L43.9 353.7 L44.1 352.5 L44.2 351.2 L44.4 350.0 L44.5 348.8 L44.7 347.6 L44.8 346.4 L45.0 345.1 L45.2 343.9 L45.4 342.7 L45.7 341.5 L45.9 340.3 L46.2 339.1 L46.4 337.9 L46.7 336.7 L47.0 335.5 L47.4 334.3 L47.7 333.0 L48.1 331.8 L48.5 330.6 L49.0 329.4 L49.5 328.2 L49.9 327.1 L50.5 325.9 L51.0 324.7 L51.6 323.5 L52.3 322.3 L52.9 321.1 L53.6 320.0 L54.4 319.0 L55.2 318.0 L56.0 317.1 L56.9 316.4 L57.9 315.8 L58.8 315.3 L59.9 315.0 L61.0 314.9 L62.1 315.0 L63.2 315.3 L64.2 315.9 L65.2 316.6 L66.2 317.5 L67.2 318.4 L68.1 319.4 L69.0 320.4 L69.9 321.3 L70.7 322.3 L71.6 323.2 L72.4 324.2 L73.2 325.1 L73.9 326.1 L74.6 327.1 L75.3 328.1 L76.0 329.1 L76.7 330.1 L77.5 331.1 L78.2 332.1 L79.0 333.1 L79.8 334.1 L80.6 335.0 L81.5 336.0 L82.4 336.9 L83.3 337.7 L84.2 338.6 L85.2 339.3 L86.2 340.1 L87.3 340.8 L88.3 341.4 L89.4 342.0 L90.5 342.6 L91.7 343.0 L92.8 343.4 L94.0 343.8 L95.2 344.1 L96.5 344.3 L97.7 344.5 L99.0 344.6 L100.2 344.8 L101.5 345.0 L102.8 345.2 L104.0 345.4 L105.2 345.7 L106.5 346.0 L107.7 346.3 L108.9 346.7 L110.0 347.1 L111.1 347.6 L112.2 348.2 L113.3 348.8 L114.3 349.4 L115.3 350.2 L116.2 351.0 L117.1 351.8 L117.9 352.7 L118.8 353.7 L119.5 354.7 L120.3 355.7 L121.1 356.7 L121.9 357.7 L122.6 358.7 L123.4 359.7 L124.2 360.7 L125.0 361.7 L125.8 362.7 L126.6 363.6 L127.4 364.6 L128.3 365.5 L129.1 366.5 L129.9 367.4 L130.7 368.4 L131.5 369.3 L132.4 370.2 L133.2 371.2 L134.0 372.1 L134.8 373.1 L135.5 374.0 L136.3 375.0 L137.1 376.0 L137.8 377.0 L138.6 378.0 L139.3 379.0 L140.0 380.0 L140.8 381.0 L141.5 382.0 L142.2 383.0 L142.9 384.1 L143.6 385.1 L144.4 386.1 L145.1 387.1 L145.8 388.1 L146.6 389.1 L147.3 390.1 L148.1 391.1 L148.8 392.1 L149.6 393.1 L150.4 394.1 L151.2 395.0 L152.1 396.0 L152.9 396.9 L153.8 397.8 L154.6 398.7 L155.5 399.6 L156.4 400.5 L157.3 401.4 L158.2 402.3 L159.0 403.2 L159.9 404.1 L160.7 405.0 L161.4 406.0 L162.1 407.0 L162.7 408.1 L163.3 409.2 L163.8 410.3 L164.2 411.5 L164.5 412.8" stroke="#ff4040" stroke-width="1.3"/><path d="M40.5 373.0 L40.6 371.7 L40.7 370.5 L40.9 369.2 L41.0 368.0 L41.1 366.7 L41.3 365.5 L41.4 364.2 L41.6 363.0 L41.7 361.7 L41.9 360.5 L42.0 359.3 L42.2 358.0 L42.4 356.8 L42.5 355.6 L42.7 354.3 L42.9 353.1 L43.1 351.9 L43.3 350.6 L43.5 349.4 L43.7 348.2 L43.9 347.0 L44.1 345.8 L44.3 344.5 L44.5 343.3 L44.7 342.1 L44.9 340.9 L45.1 339.7 L45.3 338.4 L45.6 337.2 L45.8 336.0 L46.0 334.8 L46.3 333.5 L46.5 332.3 L46.7 331.1 L47.0 329.9 L47.2 328.6 L47.5 327.4 L47.8 326.2 L48.0 324.9 L48.3 323.7 L48.5 322.4 L48.8 321.2 L49.1 320.0 L49.4 318.7 L49.6 317.5 L49.9 316.2 L50.2 314.9 L50.5 313.7 L50.8 312.4 L51.2 311.2 L51.7 310.1 L52.3 309.0 L53.0 308.0 L53.8 307.0 L54.8 306.2 L55.8 305.7 L56.9 305.4 L57.9 305.5 L59.0 306.0 L60.0 306.7 L61.0 307.5 L62.0 308.3 L63.0 309.1 L63.9 310.0 L64.8 310.8 L65.8 311.7 L66.7 312.6 L67.6 313.5 L68.5 314.3 L69.5 315.1 L70.4 316.0 L71.4 316.7 L72.4 317.5 L73.4 318.3 L74.4 319.0 L75.4 319.7 L76.4 320.5 L77.4 321.2 L78.4 321.9 L79.4 322.7 L80.4 323.4 L81.4 324.1 L82.4 324.8 L83.5 325.5 L84.5 326.2 L85.5 326.9 L86.6 327.6 L87.7 328.3 L88.7 328.9 L89.8 329.5 L90.9 330.1 L92.0 330.7 L93.2 331.2 L94.3 331.8 L95.5 332.2 L96.6 332.7 L97.8 333.1 L99.0 333.5 L100.2 333.8 L101.4 334.0 L102.7 334.2 L103.9 334.3 L105.1 334.4 L106.4 334.3 L107.6 334.2 L108.8 334.0 L110.1 333.7 L111.3 333.2 L112.5 332.8 L113.8 332.3 L115.0 331.8 L116.2 331.4 L117.4 331.0 L118.6 330.8 L119.8 330.7 L121.0 330.8 L122.2 331.1 L123.3 331.4 L124.5 331.9 L125.6 332.5 L126.6 333.2 L127.6 333.9 L128.6 334.7 L129.6 335.6 L130.5 336.6 L131.3 337.5 L132.1 338.5 L132.8 339.5 L133.5 340.6 L134.2 341.6 L134.8 342.7 L135.4 343.8 L136.0 344.9 L136.6 346.0 L137.2 347.1 L137.7 348.2 L138.3 349.3 L138.9 350.4 L139.5 351.5 L140.1 352.6 L140.7 353.7 L141.3 354.8 L141.9 355.9 L142.5 357.0 L143.0 358.1 L143.6 359.2 L144.2 360.3 L144.8 361.4 L145.5 362.5 L146.1 363.6 L146.7 364.7 L147.3 365.8 L147.9 366.8 L148.5 367.9 L149.1 369.0 L149.7 370.1 L150.3 371.2 L150.9 372.3 L151.5 373.4 L152.2 374.5 L152.8 375.5 L153.4 376.6 L154.0 377.7 L154.6 378.8 L155.3 379.9 L155.9 381.0 L156.5 382.1 L157.1 383.1 L157.7 384.2 L158.4 385.3 L159.0 386.4 L159.6 387.5 L160.2 388.6 L160.8 389.6 L161.5 390.7 L162.1 391.8 L162.7 392.9 L163.3 394.0 L164.0 395.0 L164.6 396.1 L165.2 397.2 L165.8 398.3 L166.5 399.4 L167.1 400.5 L167.7 401.5 L168.3 402.6 L168.9 403.7 L169.6 404.8 L170.2 405.9 L170.8 407.0 L171.4 408.1 L172.0 409.1 L172.7 410.2 L173.3 411.3 L173.9 412.4" stroke="#404040" stroke-width="1.35"/><path d="M40.8 381.0 L41.1 379.9 L41.4 378.7 L41.6 377.5 L41.9 376.4 L42.1 375.2 L42.4 374.0 L42.6 372.7 L42.8 371.5 L43.0 370.3 L43.2 369.0 L43.4 367.8 L43.5 366.5 L43.7 365.2 L43.9 364.0 L44.1 362.7 L44.3 361.4 L44.5 360.1 L44.7 358.9 L44.9 357.6 L45.1 356.3 L45.3 355.1 L45.5 353.8 L45.8 352.6 L46.0 351.3 L46.3 350.1 L46.6 348.9 L46.9 347.6 L47.2 346.4 L47.6 345.3 L47.9 344.1 L48.3 342.9 L48.8 341.8 L49.2 340.7 L49.7 339.6 L50.1 338.5 L50.6 337.4 L51.1 336.3 L51.6 335.2 L52.2 334.1 L52.7 333.0 L53.2 331.8 L53.6 330.7 L54.1 329.5 L54.6 328.3 L55.1 327.1 L55.6 325.9 L56.1 324.7 L56.6 323.5 L57.1 322.3 L57.6 321.1 L58.1 319.9 L58.7 318.8 L59.3 317.7 L59.9 316.5 L60.5 315.5 L61.2 314.4 L61.9 313.4 L62.6 312.4 L63.4 311.5 L64.2 310.6 L65.0 309.8 L65.9 309.1 L66.9 308.4 L67.9 307.7 L69.0 307.1 L70.1 306.6 L71.2 306.2 L72.4 305.8 L73.7 305.5 L74.9 305.2 L76.2 305.0 L77.5 304.8 L78.8 304.6 L80.1 304.5 L81.3 304.4 L82.6 304.3 L83.8 304.4 L85.0 304.5 L86.2 304.8 L87.4 305.1 L88.4 305.7 L89.5 306.3 L90.4 307.1 L91.3 307.9 L92.2 308.8 L93.0 309.8 L93.9 310.8 L94.7 311.7 L95.6 312.7 L96.4 313.6 L97.3 314.5 L98.1 315.4 L99.0 316.3 L99.9 317.2 L100.7 318.0 L101.6 318.9 L102.5 319.8 L103.4 320.6 L104.4 321.4 L105.3 322.2 L106.2 323.0 L107.2 323.8 L108.1 324.6 L109.0 325.4 L110.0 326.3 L110.9 327.1 L111.7 328.0 L112.6 328.9 L113.4 329.8 L114.3 330.7 L115.1 331.7 L115.8 332.6 L116.6 333.6 L117.4 334.6 L118.1 335.6 L118.8 336.6 L119.5 337.6 L120.2 338.6 L120.9 339.7 L121.6 340.7 L122.2 341.8 L122.9 342.9 L123.5 343.9 L124.1 345.0 L124.8 346.1 L125.4 347.2 L126.0 348.3 L126.5 349.4 L127.1 350.6 L127.7 351.7 L128.3 352.8 L128.8 353.9 L129.4 355.1 L129.9 356.2 L130.5 357.3 L131.0 358.4 L131.5 359.6 L132.1 360.7 L132.6 361.8 L133.1 363.0 L133.7 364.1 L134.2 365.2 L134.7 366.3 L135.2 367.5 L135.7 368.6 L136.3 369.7 L136.8 370.9 L137.3 372.0 L137.8 373.1 L138.3 374.2 L138.8 375.4 L139.4 376.5 L139.9 377.6 L140.4 378.7 L140.9 379.9 L141.5 381.0 L142.0 382.1 L142.5 383.2 L143.0 384.4 L143.6 385.5 L144.1 386.6 L144.7 387.7 L145.2 388.8 L145.8 389.9 L146.3 391.1 L146.9 392.2 L147.5 393.3 L148.0 394.4 L148.6 395.5 L149.2 396.6 L149.8 397.7 L150.4 398.8 L150.9 400.0 L151.5 401.1 L152.1 402.2 L152.6 403.3 L153.2 404.4 L153.7 405.6 L154.3 406.7 L154.8 407.8 L155.3 409.0 L155.8 410.1 L156.3 411.2 L156.7 412.4" stroke="#ff30ff" stroke-width="1.3"/><path d="M41.0 384.0 L41.2 382.7 L41.4 381.4 L41.6 380.2 L41.9 378.9 L42.1 377.7 L42.4 376.5 L42.7 375.2 L43.0 374.0 L43.3 372.9 L43.6 371.7 L43.9 370.5 L44.2 369.3 L44.5 368.2 L44.9 367.0 L45.2 365.9 L45.6 364.7 L45.9 363.5 L46.3 362.4 L46.6 361.2 L46.9 360.0 L47.3 358.9 L47.6 357.7 L48.0 356.5 L48.3 355.3 L48.6 354.0 L48.9 352.8 L49.2 351.6 L49.5 350.3 L49.8 349.0 L50.1 347.7 L50.4 346.4 L50.7 345.1 L51.0 343.9 L51.5 342.7 L52.0 341.6 L52.8 340.7 L53.6 339.9 L54.6 339.5 L55.6 339.3 L56.6 339.5 L57.7 339.9 L58.6 340.6 L59.5 341.5 L60.3 342.5 L61.1 343.5 L61.9 344.6 L62.7 345.7 L63.5 346.8 L64.4 347.7 L65.4 348.5 L66.4 349.2 L67.5 349.7 L68.6 350.3 L69.7 350.7 L70.9 351.1 L72.0 351.5 L73.2 351.9 L74.4 352.3 L75.6 352.7 L76.8 353.0 L78.0 353.4 L79.1 353.8 L80.3 354.2 L81.5 354.6 L82.7 355.0 L83.9 355.4 L85.1 355.8 L86.3 356.2 L87.4 356.7 L88.6 357.1 L89.8 357.6 L90.9 358.1 L92.0 358.6 L93.2 359.2 L94.3 359.7 L95.4 360.3 L96.4 360.9 L97.5 361.5 L98.6 362.1 L99.6 362.8 L100.7 363.4 L101.7 364.1 L102.7 364.8 L103.6 365.6 L104.6 366.3 L105.5 367.1 L106.5 367.9 L107.4 368.8 L108.2 369.6 L109.1 370.5 L110.0 371.4 L110.8 372.4 L111.6 373.3 L112.4 374.3 L113.2 375.2 L114.0 376.2 L114.8 377.2 L115.5 378.2 L116.3 379.2 L117.1 380.2 L117.9 381.1 L118.7 382.1 L119.5 383.1 L120.3 384.1 L121.1 385.0 L121.9 386.0 L122.7 386.9 L123.6 387.8 L124.4 388.7 L125.2 389.6 L126.1 390.6 L127.0 391.5 L127.8 392.3 L128.7 393.2 L129.5 394.1 L130.4 395.0 L131.3 395.9 L132.1 396.8 L133.0 397.7 L133.9 398.6 L134.7 399.5 L135.6 400.4 L136.4 401.3 L137.3 402.2 L138.1 403.1 L138.9 404.0 L139.8 404.9 L140.6 405.9 L141.4 406.8 L142.2 407.8 L142.9 408.8 L143.7 409.8 L144.4 410.8 L145.2 411.8 L145.9 412.8" stroke="#ffb040" stroke-width="1.35"/></g>
<clipPath id="cpf"><rect x="213.8" y="293.3" width="136.60" height="119.00"/></clipPath>
<g clip-path="url(#cpf)" fill="none" stroke-linecap="round" stroke-linejoin="round"><path d="M213.9 387.0 L213.9 385.8 L214.0 384.5 L214.0 383.3 L214.1 382.0 L214.3 380.8 L214.4 379.5 L214.6 378.3 L214.9 377.1 L215.1 375.8 L215.4 374.6 L215.8 373.4 L216.2 372.2 L216.6 371.1 L217.0 369.9 L217.5 368.8 L218.1 367.7 L218.7 366.6 L219.3 365.5 L220.0 364.5 L220.7 363.5 L221.4 362.5 L222.2 361.6 L223.1 360.7 L224.0 359.8 L224.9 359.0 L225.9 358.2 L226.9 357.4 L227.9 356.7 L229.0 356.0 L230.1 355.4 L231.2 354.8 L232.3 354.3 L233.5 353.8 L234.7 353.3 L235.9 352.9 L237.1 352.6 L238.3 352.2 L239.6 351.9 L240.8 351.7 L242.1 351.4 L243.3 351.1 L244.5 350.9 L245.7 350.6 L246.9 350.3 L248.1 350.0 L249.3 349.6 L250.4 349.2 L251.5 348.7 L252.5 348.2 L253.5 347.7 L254.5 347.0 L255.4 346.3 L256.3 345.5 L257.1 344.6 L257.9 343.6 L258.6 342.5 L259.2 341.3 L259.9 340.1 L260.5 338.9 L261.1 337.6 L261.7 336.4 L262.4 335.2 L263.0 334.0 L263.7 332.9 L264.4 331.9 L265.2 330.9 L266.0 330.1 L266.9 329.4 L267.8 328.9 L268.9 328.5 L270.0 328.2 L271.2 328.2 L272.3 328.3 L273.4 328.6 L274.5 329.1 L275.5 329.7 L276.5 330.5 L277.4 331.4 L278.2 332.4 L279.0 333.4 L279.6 334.5 L280.3 335.6 L280.8 336.8 L281.4 337.9 L281.9 339.1 L282.4 340.3 L282.9 341.4 L283.4 342.6 L283.9 343.8 L284.4 344.9 L285.0 346.1 L285.5 347.2 L286.1 348.3 L286.6 349.4 L287.2 350.5 L287.8 351.6 L288.4 352.7 L289.0 353.8 L289.5 354.9 L290.1 356.0 L290.7 357.1 L291.4 358.2 L292.0 359.2 L292.6 360.3 L293.2 361.4 L293.8 362.4 L294.4 363.5 L295.0 364.6 L295.7 365.7 L296.3 366.7 L296.9 367.8 L297.5 368.9 L298.1 370.0 L298.7 371.0 L299.3 372.1 L299.9 373.2 L300.5 374.3 L301.1 375.4 L301.7 376.5 L302.3 377.6 L302.9 378.7 L303.5 379.8 L304.1 380.9 L304.7 382.0 L305.3 383.1 L305.8 384.2 L306.4 385.3 L307.0 386.4 L307.6 387.5 L308.2 388.6 L308.7 389.7 L309.3 390.8 L309.9 391.9 L310.5 393.0 L311.0 394.2 L311.6 395.3 L312.2 396.4 L312.7 397.5 L313.3 398.6 L313.9 399.7 L314.4 400.8 L315.0 401.9 L315.5 403.0 L316.1 404.2 L316.7 405.3 L317.2 406.4 L317.8 407.5 L318.3 408.6 L318.9 409.7 L319.4 410.8 L320.0 411.9" stroke="#38f038" stroke-width="1.35"/><path d="M213.9 387.0 L214.1 385.7 L214.2 384.4 L214.4 383.2 L214.6 381.9 L214.7 380.7 L214.9 379.4 L215.0 378.2 L215.2 377.0 L215.3 375.8 L215.5 374.5 L215.7 373.3 L215.8 372.1 L216.0 370.9 L216.2 369.7 L216.4 368.5 L216.6 367.3 L216.8 366.1 L217.0 364.9 L217.3 363.7 L217.5 362.6 L217.8 361.4 L218.0 360.2 L218.3 359.0 L218.6 357.8 L219.0 356.6 L219.3 355.4 L219.7 354.2 L220.1 353.0 L220.5 351.7 L220.9 350.5 L221.4 349.3 L221.9 348.1 L222.4 346.9 L222.9 345.7 L223.5 344.6 L224.1 343.4 L224.7 342.3 L225.4 341.2 L226.1 340.2 L226.8 339.2 L227.5 338.2 L228.3 337.3 L229.2 336.4 L230.1 335.6 L231.0 334.9 L231.9 334.2 L232.9 333.5 L234.0 333.0 L235.1 332.5 L236.2 332.1 L237.4 331.8 L238.6 331.6 L239.8 331.4 L241.1 331.2 L242.3 331.1 L243.6 331.1 L244.9 331.1 L246.2 331.1 L247.5 331.1 L248.8 331.1 L250.0 331.1 L251.3 331.1 L252.5 331.1 L253.6 331.0 L254.8 330.9 L256.0 330.7 L257.2 330.4 L258.5 330.1 L259.7 329.7 L261.0 329.4 L262.3 329.0 L263.5 328.7 L264.8 328.4 L266.0 328.3 L267.2 328.2 L268.4 328.2 L269.6 328.4 L270.7 328.6 L271.8 328.9 L272.9 329.4 L273.9 329.8 L274.9 330.4 L275.9 331.1 L276.9 331.8 L277.9 332.5 L278.8 333.3 L279.7 334.2 L280.6 335.1 L281.5 336.0 L282.4 337.0 L283.3 337.9 L284.1 338.9 L284.9 339.9 L285.7 341.0 L286.5 342.0 L287.3 343.0 L288.1 344.0 L288.9 345.0 L289.6 346.0 L290.4 347.0 L291.1 348.0 L291.9 349.0 L292.6 350.0 L293.3 351.0 L294.0 352.0 L294.7 353.0 L295.4 354.0 L296.1 355.0 L296.8 356.0 L297.5 357.0 L298.1 358.1 L298.8 359.1 L299.5 360.1 L300.1 361.1 L300.8 362.2 L301.4 363.2 L302.1 364.3 L302.7 365.3 L303.4 366.4 L304.0 367.4 L304.7 368.5 L305.3 369.6 L305.9 370.6 L306.6 371.7 L307.2 372.8 L307.8 373.9 L308.4 374.9 L309.1 376.0 L309.7 377.1 L310.3 378.2 L310.9 379.3 L311.5 380.4 L312.2 381.5 L312.8 382.5 L313.4 383.6 L314.0 384.7 L314.6 385.8 L315.3 386.9 L315.9 388.0 L316.5 389.1 L317.1 390.2 L317.7 391.3 L318.4 392.3 L319.0 393.4 L319.6 394.5 L320.2 395.6 L320.9 396.7 L321.5 397.7 L322.1 398.8 L322.8 399.9 L323.4 401.0 L324.0 402.0 L324.7 403.1 L325.3 404.1 L326.0 405.2 L326.7 406.2 L327.4 407.2 L328.2 408.1 L329.1 408.9 L330.0 409.7 L331.0 410.4 L332.1 411.0 L333.3 411.5 L334.6 411.9" stroke="#ff4040" stroke-width="1.3"/><path d="M213.9 387.0 L214.1 385.7 L214.2 384.5 L214.4 383.2 L214.5 381.9 L214.7 380.7 L214.8 379.5 L215.0 378.2 L215.1 377.0 L215.3 375.8 L215.4 374.6 L215.6 373.4 L215.8 372.1 L215.9 370.9 L216.1 369.7 L216.2 368.5 L216.4 367.3 L216.6 366.1 L216.8 364.9 L216.9 363.7 L217.1 362.5 L217.3 361.3 L217.5 360.0 L217.7 358.8 L217.9 357.6 L218.1 356.3 L218.4 355.1 L218.6 353.8 L218.8 352.6 L219.1 351.3 L219.3 350.0 L219.6 348.8 L220.0 347.5 L220.3 346.3 L220.7 345.0 L221.2 343.9 L221.7 342.7 L222.3 341.6 L222.9 340.6 L223.6 339.6 L224.4 338.6 L225.3 337.8 L226.3 337.1 L227.3 336.5 L228.3 336.0 L229.4 335.7 L230.6 335.6 L231.8 335.6 L233.0 335.7 L234.2 335.9 L235.4 336.2 L236.6 336.6 L237.9 337.0 L239.1 337.5 L240.2 338.1 L241.4 338.6 L242.5 339.2 L243.7 339.8 L244.8 340.3 L245.9 340.9 L247.1 341.3 L248.2 341.7 L249.4 342.0 L250.6 342.3 L251.8 342.5 L253.0 342.6 L254.3 342.6 L255.5 342.5 L256.8 342.4 L258.1 342.3 L259.4 342.1 L260.7 342.0 L262.0 341.9 L263.3 341.8 L264.5 341.8 L265.7 341.9 L267.0 342.0 L268.2 342.2 L269.4 342.4 L270.5 342.6 L271.7 342.9 L272.9 343.3 L274.0 343.7 L275.2 344.1 L276.3 344.5 L277.4 345.0 L278.5 345.5 L279.7 346.0 L280.8 346.6 L281.9 347.2 L283.0 347.7 L284.1 348.3 L285.2 348.9 L286.3 349.5 L287.4 350.1 L288.5 350.7 L289.6 351.3 L290.7 351.9 L291.8 352.5 L293.0 353.1 L294.0 353.7 L295.1 354.3 L296.2 355.0 L297.3 355.6 L298.4 356.3 L299.4 357.0 L300.4 357.7 L301.5 358.4 L302.5 359.1 L303.5 359.8 L304.4 360.6 L305.4 361.4 L306.3 362.2 L307.2 363.0 L308.1 363.8 L309.0 364.7 L309.8 365.6 L310.7 366.5 L311.5 367.4 L312.3 368.3 L313.1 369.3 L313.9 370.3 L314.6 371.2 L315.4 372.2 L316.1 373.2 L316.9 374.2 L317.6 375.2 L318.4 376.2 L319.1 377.2 L319.8 378.2 L320.6 379.2 L321.3 380.2 L322.1 381.3 L322.8 382.2 L323.6 383.2 L324.4 384.2 L325.1 385.2 L325.9 386.1 L326.7 387.1 L327.5 388.1 L328.3 389.0 L329.1 390.0 L329.9 390.9 L330.7 391.9 L331.4 392.9 L332.2 393.9 L332.9 394.9 L333.6 395.9 L334.2 397.0 L334.9 398.0 L335.5 399.1 L336.1 400.2 L336.7 401.3 L337.3 402.4 L337.9 403.5 L338.5 404.5 L339.1 405.6 L339.8 406.7 L340.4 407.8 L341.1 408.8 L341.8 409.9 L342.5 410.9 L343.2 411.9" stroke="#404040" stroke-width="1.35"/><path d="M213.9 387.0 L213.9 385.7 L214.0 384.4 L214.2 383.2 L214.3 381.9 L214.6 380.7 L214.8 379.5 L215.2 378.3 L215.5 377.1 L215.9 375.9 L216.4 374.8 L216.9 373.7 L217.4 372.5 L218.0 371.5 L218.6 370.4 L219.2 369.3 L219.9 368.3 L220.6 367.3 L221.3 366.3 L222.1 365.3 L222.9 364.3 L223.7 363.4 L224.5 362.5 L225.4 361.6 L226.3 360.7 L227.2 359.9 L228.2 359.0 L229.1 358.2 L230.1 357.4 L231.1 356.7 L232.1 355.9 L233.2 355.2 L234.2 354.5 L235.3 353.9 L236.3 353.2 L237.4 352.6 L238.5 352.0 L239.6 351.5 L240.7 350.9 L241.9 350.4 L243.0 349.9 L244.2 349.5 L245.4 349.1 L246.6 348.7 L247.8 348.3 L249.0 347.9 L250.2 347.5 L251.3 347.1 L252.5 346.7 L253.6 346.3 L254.7 345.8 L255.8 345.2 L256.9 344.6 L257.9 344.0 L258.9 343.4 L260.0 342.7 L261.0 342.0 L262.0 341.3 L263.0 340.5 L264.1 339.8 L265.1 339.0 L266.2 338.2 L267.2 337.4 L268.3 336.7 L269.4 336.0 L270.5 335.4 L271.6 334.8 L272.8 334.4 L273.9 334.2 L275.1 334.0 L276.2 334.1 L277.4 334.3 L278.5 334.6 L279.7 335.1 L280.7 335.6 L281.8 336.3 L282.8 337.0 L283.7 337.7 L284.7 338.5 L285.5 339.3 L286.4 340.2 L287.2 341.2 L287.9 342.1 L288.7 343.1 L289.4 344.2 L290.1 345.2 L290.8 346.3 L291.5 347.4 L292.1 348.5 L292.8 349.6 L293.4 350.7 L294.1 351.8 L294.7 352.9 L295.4 354.0 L296.0 355.1 L296.6 356.2 L297.3 357.3 L297.9 358.4 L298.5 359.5 L299.2 360.5 L299.8 361.6 L300.4 362.7 L301.1 363.8 L301.7 364.9 L302.3 365.9 L303.0 367.0 L303.6 368.1 L304.2 369.2 L304.8 370.2 L305.4 371.3 L306.1 372.4 L306.7 373.4 L307.3 374.5 L307.9 375.6 L308.5 376.6 L309.1 377.7 L309.7 378.8 L310.4 379.8 L311.0 380.9 L311.6 382.0 L312.2 383.1 L312.8 384.1 L313.4 385.2 L314.0 386.3 L314.5 387.4 L315.1 388.4 L315.7 389.5 L316.3 390.6 L316.9 391.7 L317.5 392.8 L318.0 393.9 L318.6 395.0 L319.2 396.1 L319.8 397.2 L320.3 398.3 L320.9 399.4 L321.5 400.5 L322.0 401.6 L322.6 402.8 L323.1 403.9 L323.7 405.0 L324.2 406.1 L324.8 407.3 L325.3 408.4 L325.8 409.6 L326.4 410.7 L326.9 411.9" stroke="#ff30ff" stroke-width="1.3"/><path d="M213.9 387.0 L213.6 385.4 L213.6 384.0 L213.8 382.7 L214.3 381.6 L214.9 380.6 L215.6 379.8 L216.5 379.0 L217.5 378.4 L218.6 377.8 L219.7 377.3 L220.9 376.8 L222.1 376.3 L223.3 375.9 L224.5 375.5 L225.7 375.1 L226.9 374.7 L228.1 374.3 L229.3 374.0 L230.6 373.7 L231.8 373.4 L233.0 373.2 L234.2 373.0 L235.4 372.9 L236.7 372.8 L237.9 372.7 L239.1 372.7 L240.3 372.8 L241.6 372.8 L242.8 372.9 L244.0 373.1 L245.2 373.2 L246.5 373.3 L247.7 373.3 L248.9 373.3 L250.1 373.3 L251.3 373.2 L252.6 373.0 L253.8 372.7 L255.0 372.3 L256.2 371.9 L257.4 371.5 L258.6 371.0 L259.8 370.6 L261.0 370.3 L262.2 370.0 L263.4 369.9 L264.6 369.8 L265.8 369.9 L266.9 370.0 L268.1 370.2 L269.3 370.4 L270.5 370.7 L271.7 371.0 L272.9 371.4 L274.1 371.8 L275.3 372.2 L276.4 372.7 L277.6 373.2 L278.8 373.7 L280.0 374.2 L281.1 374.7 L282.3 375.3 L283.4 375.9 L284.5 376.5 L285.6 377.2 L286.6 377.8 L287.7 378.5 L288.7 379.3 L289.7 380.0 L290.7 380.8 L291.6 381.6 L292.5 382.5 L293.4 383.3 L294.2 384.2 L295.0 385.1 L295.8 386.1 L296.6 387.0 L297.4 388.0 L298.1 389.0 L298.8 390.0 L299.6 391.0 L300.2 392.0 L300.9 393.1 L301.6 394.1 L302.3 395.2 L302.9 396.2 L303.6 397.3 L304.2 398.4 L304.9 399.4 L305.5 400.5 L306.2 401.6 L306.9 402.6 L307.5 403.7 L308.2 404.8 L308.9 405.8 L309.6 406.9 L310.3 407.9 L311.0 408.9 L311.7 409.9 L312.4 410.9 L313.2 411.9" stroke="#ffb040" stroke-width="1.35"/></g>
<line x1="72.6" y1="71.2" x2="101.8" y2="71.2" stroke="#38f038" stroke-width="1.5"/>
<text x="68.3" y="73.2" text-anchor="end" class="t">i</text>
<line x1="72.6" y1="81.9" x2="101.8" y2="81.9" stroke="#ff4040" stroke-width="1.5"/>
<text x="68.3" y="83.9" text-anchor="end" class="t">ii</text>
<line x1="72.6" y1="92.5" x2="101.8" y2="92.5" stroke="#404040" stroke-width="1.5"/>
<text x="68.3" y="94.5" text-anchor="end" class="t">iii</text>
<line x1="72.6" y1="103.2" x2="101.8" y2="103.2" stroke="#ff30ff" stroke-width="1.5"/>
<text x="68.3" y="105.2" text-anchor="end" class="t">iv</text>
<line x1="72.6" y1="113.9" x2="101.8" y2="113.9" stroke="#ffb040" stroke-width="1.5"/>
<text x="68.3" y="115.9" text-anchor="end" class="t">v</text>
<text x="82.6" y="131.7" text-anchor="middle" class="t">50</text>
<text x="125.3" y="131.7" text-anchor="middle" class="t">100</text>
<text x="168.1" y="131.7" text-anchor="middle" class="t">150</text>
<text x="82.6" y="276.79999999999995" text-anchor="middle" class="t">50</text>
<text x="125.3" y="276.79999999999995" text-anchor="middle" class="t">100</text>
<text x="168.1" y="276.79999999999995" text-anchor="middle" class="t">150</text>
<text x="82.6" y="421.7" text-anchor="middle" class="t">50</text>
<text x="125.3" y="421.7" text-anchor="middle" class="t">100</text>
<text x="168.1" y="421.7" text-anchor="middle" class="t">150</text>
<text x="255.6" y="131.7" text-anchor="middle" class="t">50</text>
<text x="298.4" y="131.7" text-anchor="middle" class="t">100</text>
<text x="341.4" y="131.7" text-anchor="middle" class="t">150</text>
<text x="255.6" y="276.79999999999995" text-anchor="middle" class="t">50</text>
<text x="298.4" y="276.79999999999995" text-anchor="middle" class="t">100</text>
<text x="341.4" y="276.79999999999995" text-anchor="middle" class="t">150</text>
<text x="255.6" y="421.7" text-anchor="middle" class="t">50</text>
<text x="298.4" y="421.7" text-anchor="middle" class="t">100</text>
<text x="341.4" y="421.7" text-anchor="middle" class="t">150</text>
<text x="37.4" y="125.3" text-anchor="end" class="t">0</text>
<text x="37.4" y="81.4" text-anchor="end" class="t">0.3</text>
<text x="37.4" y="37.3" text-anchor="end" class="t">0.6</text>
<text x="211.0" y="125.3" text-anchor="end" class="t">0</text>
<text x="211.0" y="81.4" text-anchor="end" class="t">0.3</text>
<text x="211.0" y="37.3" text-anchor="end" class="t">0.6</text>
<text x="37.4" y="270.4" text-anchor="end" class="t">0</text>
<text x="37.4" y="219.2" text-anchor="end" class="t">70</text>
<text x="37.4" y="168.0" text-anchor="end" class="t">140</text>
<text x="211.0" y="270.4" text-anchor="end" class="t">0</text>
<text x="211.0" y="219.2" text-anchor="end" class="t">70</text>
<text x="211.0" y="168.0" text-anchor="end" class="t">140</text>
<text x="37.4" y="415.3" text-anchor="end" class="t">0</text>
<text x="37.4" y="365.2" text-anchor="end" class="t">30</text>
<text x="37.4" y="314.9" text-anchor="end" class="t">60</text>
<text x="211.0" y="415.3" text-anchor="end" class="t">0</text>
<text x="211.0" y="365.2" text-anchor="end" class="t">30</text>
<text x="211.0" y="314.9" text-anchor="end" class="t">60</text>
<text x="8.2" y="7.4" class="pl" letter-spacing="0.8">(<tspan class="it">a</tspan>)</text>
<text x="190.2" y="7.4" class="pl" letter-spacing="0.8">(<tspan class="it">b</tspan>)</text>
<text x="8.8" y="152.8" class="pl" letter-spacing="0.8">(<tspan class="it">c</tspan>)</text>
<text x="185.6" y="152.8" class="pl" letter-spacing="0.8">(<tspan class="it">d</tspan>)</text>
<text x="8.8" y="296.5" class="pl" letter-spacing="0.8">(<tspan class="it">e</tspan>)</text>
<text x="185.2" y="296.5" class="pl" letter-spacing="1.9">(<tspan class="it">f</tspan>)</text>
<text x="103.8" y="432.6" class="ax"><tspan class="it">y</tspan><tspan dy="-3.4" font-size="6.8">+</tspan></text>
<text x="276.2" y="432.6" class="ax"><tspan class="it">y</tspan><tspan dy="-3.4" font-size="6.8">+</tspan></text>
<text x="109.2" y="445.8" text-anchor="middle" class="ax" font-weight="bold" font-size="9.4">VE</text>
<text x="279.5" y="445.8" text-anchor="middle" class="ax">EVP</text>
<text x="8.4" y="213.9" class="cl"><tspan class="it">C</tspan><tspan font-size="6.8" dx="0.8" dy="2.2">22</tspan></text>
<line x1="10.9" y1="205.2" x2="15.5" y2="205.2" stroke="#777" stroke-width="0.6"/>
<text x="8.4" y="358.4" class="cl"><tspan class="it">C</tspan><tspan font-size="6.8" dx="0.8" dy="2.2">12</tspan></text>
<line x1="10.9" y1="349.7" x2="15.5" y2="349.7" stroke="#777" stroke-width="0.6"/>
<g transform="translate(19.1,76.4) rotate(-90)"><text x="0" y="0" class="yl">Tr(<tspan class="it">C</tspan>)/<tspan class="it">L</tspan></text></g>
<path d="M8.2 51.2 V75.8 L18.2 80.4" stroke="#666" stroke-width="0.8" fill="none"/>
<path d="M15.3 83.5 L18.7 80.3" stroke="#333" stroke-width="1.3" fill="none"/>
</svg>
</body></html>
